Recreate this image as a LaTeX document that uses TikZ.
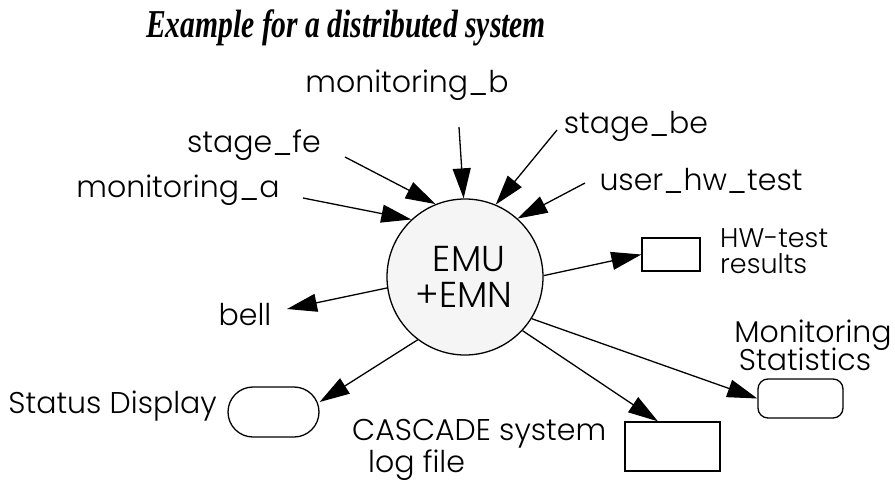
\documentclass[tikz,border=0pt]{standalone}
\usepackage{fontspec}
\setmainfont{Poppins}[UprightFont={* Light}]
\newfontfamily\titlefont{Liberation Serif}
\usetikzlibrary{arrows.meta}
\begin{document}
\begin{tikzpicture}[x=1pt,y=-1pt,
  lab/.style={font=\fontsize{30}{34}\selectfont, inner sep=0pt},
  smlab/.style={font=\fontsize{27}{30}\selectfont, inner sep=0pt},
  emutxt/.style={font=\fontsize{36}{40}\selectfont, inner sep=0pt},
  arr/.style={line width=1.3pt, -{Triangle[length=30pt,width=18pt]}},
  box/.style={draw, line width=1.3pt, inner sep=0pt, fill=white},
]
\useasboundingbox (0,0) rectangle (895,482);
\node[anchor=base, inner sep=0pt] (title) at (346,37) {\scalebox{0.75}[1]{\titlefont\fontsize{39.5}{42}\selectfont\bfseries\itshape Example for a distributed system}};
% central process
\node[circle, draw, line width=1.3pt, fill=black!4, minimum size=156pt, inner sep=0pt] (emu) at (465,277) {};
\node[emutxt, anchor=base] (emu1) at (469,271) {EMU};
\node[emutxt, anchor=base] (emu2) at (464,307) {+EMN};
% labels
\node[lab, anchor=base] (monb) at (407,92) {monitoring\_b};
\node[lab, anchor=base] (stfe) at (254,152) {stage\_fe};
\node[lab, anchor=base] (mona) at (178,197) {monitoring\_a};
\node[lab, anchor=base] (stbe) at (636,133) {stage\_be};
\node[lab, anchor=base] (uhw) at (701,190) {user\_hw\_test};
\node[smlab, anchor=base west] (hw1) at (720,247) {HW-test};
\node[smlab, anchor=base west] (hw2) at (720,273) {results};
\node[lab, anchor=base] (bell) at (245,325) {bell};
\node[lab, anchor=base east] (stat) at (217,413) {Status Display};
\node[lab, anchor=base west] (casc1) at (352,440) {CASCADE system};
\node[lab, anchor=base west] (casc2) at (368,472) {log file};
\node[lab, anchor=base] (mon1) at (813,342) {Monitoring};
\node[lab, anchor=base] (mon2) at (805,370) {Statistics};
% stores
\node[box, minimum width=58pt, minimum height=33pt] (hwbox) at (671,254.5) {};
\node[box, rounded corners=25pt, minimum width=91pt, minimum height=50pt] (sbox) at (273.5,412) {};
\node[box, minimum width=95pt, minimum height=49pt] (cbox) at (672.5,446.5) {};
\node[box, rounded corners=10pt, minimum width=85pt, minimum height=39pt] (mbox) at (800.5,398.5) {};
% free ends
\coordinate (pb) at (459,127);
\coordinate (pbe) at (557,130);
\coordinate (puh) at (585,183);
\coordinate (pfe) at (345,157);
\coordinate (pa) at (303,198);
\coordinate (pbell) at (287,309);
% connectors
\draw[arr] (pb) -- (emu.91.5);
\draw[arr] (pbe) -- (emu.67.4);
\draw[arr] (puh) -- (emu.48.6);
\draw[arr] (pfe) -- (emu.112.6);
\draw[arr] (pa) -- (emu.133.4);
\draw[arr] (emu.1.5) -- (hwbox.west);
\draw[arr] (emu.188.5) -- (pbell);
\draw[arr] (emu.233) -- ([yshift=10pt]sbox.east);
\draw[arr] (emu.317.7) -- ([xshift=-14.5pt]cbox.north);
\draw[arr] (emu.328) -- (mbox.west);
\end{tikzpicture}
\end{document}
